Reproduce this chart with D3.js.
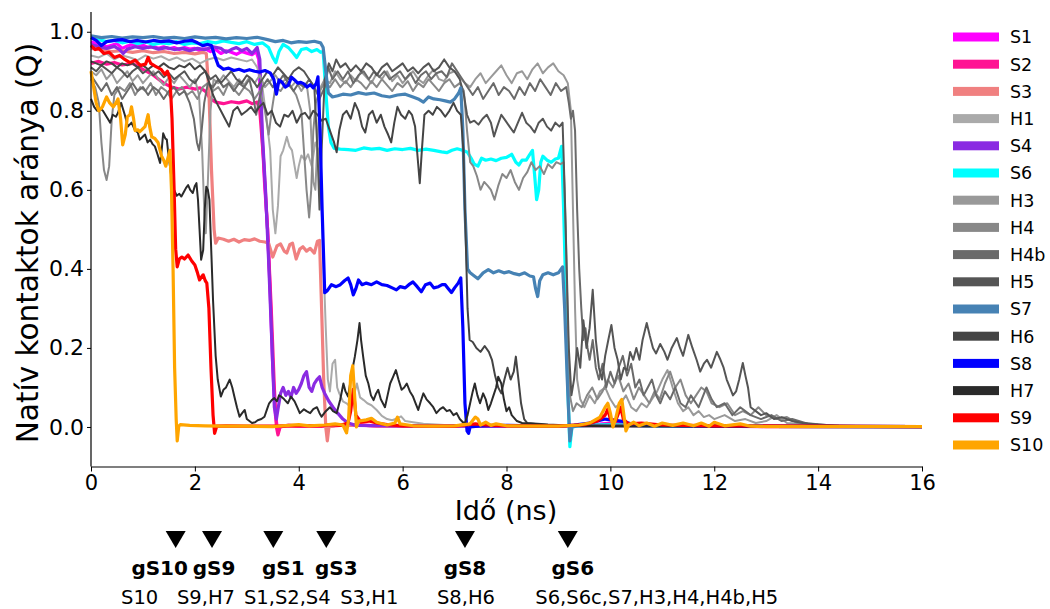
<!DOCTYPE html>
<html><head><meta charset="utf-8">
<script src="https://cdn.jsdelivr.net/npm/d3@7"></script>
<style>
html,body{margin:0;padding:0;background:#fff;}
svg{display:block;font-family:"DejaVu Sans",sans-serif;}
</style></head><body>
<svg id="chart" width="1050" height="609"></svg>
<script>
// Native contact fraction Q(t) per structural element, [time (ns), Q]
const S1 = [[0,0.975],[0.1,0.97],[0.2,0.968],[0.3,0.962],[0.4,0.966],[0.5,0.97],[0.6,0.958],[0.7,0.964],[0.8,0.968],[0.9,0.962],[1.0,0.966],[1.1,0.96],[1.2,0.963],[1.3,0.958],[1.4,0.962],[1.5,0.957],[1.6,0.96],[1.7,0.955],[1.8,0.96],[1.9,0.956],[2.0,0.958],[2.1,0.952],[2.2,0.957],[2.3,0.95],[2.4,0.955],[2.5,0.945],[2.6,0.952],[2.7,0.948],[2.8,0.943],[2.9,0.95],[3.0,0.946],[3.1,0.942],[3.18,0.95],[3.23,0.93],[3.28,0.78],[3.34,0.62],[3.4,0.5],[3.45,0.34],[3.5,0.15],[3.55,0.03],[3.6,-0.012],[3.65,0.002],[3.8,0.004],[4.0,0.002],[4.5,0.003],[5.0,0.006],[5.5,0.003],[6.0,0.002],[7.0,0.002],[8.0,0.003],[9.0,0.002],[9.6,0.005],[10.0,0.01],[10.5,0.004],[11,0.003],[12,0.002],[13,0.001],[16,0.001]];
const S2 = [[0,0.92],[0.15,0.925],[0.3,0.918],[0.45,0.922],[0.6,0.916],[0.8,0.92],[1.0,0.905],[1.2,0.89],[1.4,0.87],[1.55,0.86],[1.7,0.855],[1.85,0.86],[2.0,0.855],[2.1,0.858],[2.2,0.85],[2.3,0.83],[2.4,0.822],[2.55,0.818],[2.7,0.823],[2.85,0.82],[3.0,0.825],[3.1,0.818],[3.2,0.822],[3.25,0.8],[3.32,0.68],[3.4,0.5],[3.47,0.3],[3.53,0.1],[3.57,0.0],[3.6,-0.02],[3.64,0.0],[3.8,0.004],[4.2,0.003],[4.6,0.002],[5.0,0.006],[5.5,0.003],[6,0.002],[7,0.002],[8,0.002],[9,0.002],[9.8,0.006],[10.2,0.01],[10.6,0.004],[11.5,0.003],[12.5,0.002],[16,0.001]];
const S3 = [[0,0.958],[0.2,0.955],[0.4,0.95],[0.6,0.952],[0.8,0.948],[1.0,0.952],[1.2,0.947],[1.4,0.95],[1.6,0.945],[1.8,0.948],[2.0,0.944],[2.15,0.948],[2.22,0.945],[2.27,0.85],[2.32,0.65],[2.37,0.5],[2.4,0.465],[2.45,0.478],[2.55,0.475],[2.65,0.47],[2.75,0.475],[2.85,0.468],[2.95,0.474],[3.05,0.472],[3.15,0.476],[3.25,0.47],[3.35,0.468],[3.42,0.465],[3.5,0.43],[3.58,0.458],[3.65,0.463],[3.72,0.445],[3.77,0.44],[3.83,0.462],[3.88,0.465],[3.95,0.425],[4.02,0.45],[4.08,0.456],[4.15,0.445],[4.22,0.452],[4.3,0.44],[4.36,0.47],[4.4,0.472],[4.44,0.3],[4.48,0.12],[4.52,0.0],[4.55,-0.035],[4.58,0.0],[4.7,0.004],[5,0.005],[5.5,0.003],[6,0.002],[8,0.002],[10,0.003],[12,0.002],[16,0.001]];
const H1 = [[0,0.94],[0.15,0.935],[0.3,0.945],[0.45,0.93],[0.6,0.94],[0.75,0.935],[0.9,0.928],[1.05,0.94],[1.2,0.932],[1.35,0.938],[1.5,0.928],[1.65,0.935],[1.8,0.925],[1.95,0.932],[2.1,0.92],[2.25,0.93],[2.4,0.935],[2.55,0.928],[2.7,0.935],[2.85,0.93],[3.0,0.925],[3.1,0.93],[3.2,0.91],[3.3,0.86],[3.38,0.78],[3.45,0.7],[3.5,0.55],[3.55,0.49],[3.6,0.56],[3.65,0.685],[3.7,0.7],[3.77,0.734],[3.82,0.71],[3.87,0.7],[3.92,0.66],[3.96,0.63],[4.0,0.66],[4.05,0.687],[4.12,0.675],[4.18,0.69],[4.25,0.66],[4.32,0.72],[4.38,0.7],[4.43,0.6],[4.48,0.4],[4.52,0.25],[4.56,0.12],[4.6,0.09],[4.65,0.16],[4.7,0.17],[4.74,0.1],[4.78,0.085],[4.85,0.065],[4.92,0.06],[5.0,0.05],[5.08,0.09],[5.12,0.11],[5.18,0.075],[5.25,0.068],[5.32,0.06],[5.4,0.055],[5.5,0.043],[5.6,0.028],[5.7,0.02],[5.8,0.017],[5.9,0.022],[5.97,0.027],[6.05,0.015],[6.2,0.012],[6.4,0.008],[6.8,0.005],[7.5,0.004],[9,0.003],[16,0.001]];
const S4 = [[0,0.968],[0.15,0.962],[0.3,0.958],[0.45,0.963],[0.55,0.955],[0.62,0.945],[0.7,0.956],[0.85,0.962],[1.0,0.958],[1.15,0.962],[1.3,0.956],[1.45,0.96],[1.6,0.955],[1.75,0.958],[1.9,0.952],[2.05,0.958],[2.2,0.955],[2.35,0.962],[2.5,0.958],[2.6,0.948],[2.7,0.955],[2.8,0.96],[2.9,0.952],[3.0,0.958],[3.1,0.945],[3.2,0.96],[3.25,0.93],[3.3,0.74],[3.36,0.6],[3.42,0.42],[3.48,0.22],[3.53,0.05],[3.57,0.02],[3.6,0.045],[3.65,0.085],[3.7,0.1],[3.75,0.08],[3.8,0.09],[3.85,0.075],[3.9,0.1],[3.95,0.085],[4.0,0.095],[4.05,0.11],[4.1,0.13],[4.15,0.14],[4.2,0.1],[4.25,0.09],[4.3,0.11],[4.35,0.12],[4.4,0.127],[4.45,0.1],[4.5,0.085],[4.58,0.065],[4.66,0.05],[4.75,0.035],[4.85,0.02],[4.95,0.01],[5.1,0.004],[6,0.003],[8,0.002],[10,0.004],[12,0.002],[16,0.001]];
const S6 = [[0,0.985],[0.15,0.98],[0.3,0.975],[0.45,0.978],[0.6,0.972],[0.75,0.976],[0.9,0.97],[1.05,0.975],[1.2,0.968],[1.35,0.972],[1.5,0.97],[1.65,0.975],[1.8,0.968],[1.95,0.972],[2.1,0.97],[2.25,0.975],[2.4,0.972],[2.55,0.977],[2.7,0.973],[2.85,0.97],[3.0,0.975],[3.15,0.968],[3.3,0.972],[3.42,0.96],[3.5,0.935],[3.56,0.922],[3.62,0.95],[3.7,0.968],[3.8,0.96],[3.9,0.945],[3.96,0.935],[4.05,0.955],[4.15,0.958],[4.25,0.95],[4.35,0.955],[4.42,0.948],[4.47,0.95],[4.52,0.85],[4.57,0.76],[4.62,0.72],[4.68,0.705],[4.8,0.703],[4.95,0.702],[5.1,0.7],[5.25,0.706],[5.4,0.703],[5.55,0.705],[5.7,0.7],[5.85,0.704],[6.0,0.702],[6.15,0.705],[6.3,0.7],[6.45,0.703],[6.6,0.7],[6.75,0.696],[6.85,0.694],[6.95,0.7],[7.05,0.704],[7.15,0.7],[7.25,0.695],[7.32,0.68],[7.38,0.665],[7.45,0.66],[7.52,0.68],[7.6,0.675],[7.7,0.678],[7.8,0.674],[7.9,0.68],[8.0,0.682],[8.1,0.69],[8.18,0.67],[8.24,0.663],[8.3,0.675],[8.38,0.675],[8.45,0.69],[8.5,0.7],[8.54,0.64],[8.58,0.575],[8.62,0.6],[8.66,0.67],[8.7,0.685],[8.78,0.675],[8.86,0.67],[8.94,0.678],[9.0,0.68],[9.06,0.71],[9.1,0.55],[9.14,0.35],[9.18,0.1],[9.22,-0.05],[9.26,0.0],[9.4,0.003],[9.6,0.005],[10,0.006],[10.5,0.004],[11,0.003],[12,0.002],[16,0.001]];
const H3 = [[0,0.9],[0.1,0.89],[0.2,0.905],[0.3,0.88],[0.4,0.895],[0.5,0.87],[0.6,0.885],[0.7,0.9],[0.8,0.875],[0.9,0.89],[1.0,0.87],[1.1,0.885],[1.2,0.9],[1.3,0.88],[1.4,0.865],[1.5,0.885],[1.6,0.87],[1.7,0.89],[1.8,0.875],[1.9,0.86],[2.0,0.88],[2.08,0.84],[2.14,0.7],[2.18,0.55],[2.21,0.49],[2.25,0.62],[2.3,0.8],[2.36,0.88],[2.45,0.87],[2.55,0.89],[2.65,0.875],[2.75,0.86],[2.85,0.88],[2.95,0.865],[3.05,0.885],[3.15,0.87],[3.25,0.89],[3.35,0.86],[3.45,0.875],[3.55,0.89],[3.65,0.87],[3.75,0.88],[3.85,0.86],[3.95,0.875],[4.05,0.85],[4.15,0.87],[4.22,0.8],[4.28,0.62],[4.32,0.6],[4.37,0.75],[4.42,0.86],[4.5,0.88],[4.6,0.87],[4.7,0.9],[4.8,0.88],[4.9,0.87],[5.0,0.89],[5.1,0.875],[5.2,0.9],[5.3,0.885],[5.4,0.87],[5.5,0.895],[5.6,0.88],[5.7,0.9],[5.8,0.875],[5.9,0.89],[6.0,0.87],[6.1,0.885],[6.2,0.9],[6.3,0.88],[6.4,0.87],[6.5,0.89],[6.6,0.905],[6.7,0.88],[6.8,0.875],[6.9,0.895],[7.0,0.9],[7.1,0.885],[7.2,0.87],[7.3,0.86],[7.4,0.88],[7.5,0.895],[7.6,0.87],[7.7,0.885],[7.8,0.9],[7.9,0.915],[8.0,0.89],[8.1,0.87],[8.2,0.895],[8.3,0.9],[8.4,0.88],[8.5,0.905],[8.6,0.92],[8.7,0.895],[8.8,0.91],[8.9,0.92],[9.0,0.9],[9.1,0.89],[9.18,0.87],[9.24,0.8],[9.28,0.55],[9.32,0.3],[9.36,0.12],[9.42,0.07],[9.5,0.05],[9.6,0.08],[9.7,0.06],[9.8,0.09],[9.9,0.1],[10.0,0.07],[10.1,0.05],[10.2,0.06],[10.3,0.08],[10.4,0.05],[10.5,0.04],[10.6,0.06],[10.7,0.05],[10.8,0.07],[10.9,0.09],[11.0,0.12],[11.1,0.144],[11.2,0.1],[11.3,0.06],[11.4,0.04],[11.5,0.05],[11.6,0.03],[11.7,0.04],[11.8,0.025],[11.9,0.03],[12.0,0.02],[12.2,0.03],[12.4,0.015],[12.6,0.02],[12.8,0.01],[13.0,0.015],[13.2,0.03],[13.4,0.01],[13.6,0.008],[14.0,0.004],[14.5,0.002],[16,0.001]];
const H4 = [[0,0.88],[0.08,0.86],[0.15,0.82],[0.2,0.72],[0.25,0.65],[0.3,0.625],[0.35,0.66],[0.4,0.78],[0.45,0.84],[0.55,0.86],[0.65,0.85],[0.75,0.87],[0.85,0.84],[0.95,0.86],[1.05,0.85],[1.15,0.87],[1.25,0.84],[1.35,0.86],[1.45,0.85],[1.55,0.83],[1.65,0.85],[1.75,0.86],[1.85,0.84],[1.95,0.85],[2.05,0.83],[2.15,0.86],[2.25,0.87],[2.35,0.85],[2.45,0.86],[2.55,0.84],[2.65,0.87],[2.75,0.855],[2.85,0.84],[2.95,0.86],[3.05,0.85],[3.15,0.83],[3.25,0.85],[3.35,0.8],[3.42,0.74],[3.48,0.8],[3.55,0.86],[3.65,0.85],[3.75,0.87],[3.85,0.86],[3.95,0.84],[4.05,0.8],[4.1,0.7],[4.15,0.6],[4.2,0.53],[4.24,0.6],[4.28,0.75],[4.33,0.82],[4.4,0.85],[4.5,0.87],[4.6,0.86],[4.7,0.88],[4.8,0.86],[4.9,0.875],[5.0,0.86],[5.1,0.88],[5.2,0.87],[5.3,0.855],[5.4,0.875],[5.5,0.86],[5.6,0.88],[5.7,0.865],[5.8,0.85],[5.9,0.87],[6.0,0.86],[6.1,0.875],[6.2,0.85],[6.3,0.87],[6.4,0.86],[6.5,0.88],[6.6,0.865],[6.7,0.85],[6.8,0.87],[6.9,0.88],[7.0,0.86],[7.1,0.87],[7.18,0.85],[7.24,0.75],[7.3,0.67],[7.36,0.66],[7.43,0.635],[7.5,0.6],[7.57,0.62],[7.64,0.61],[7.7,0.6],[7.77,0.575],[7.84,0.61],[7.92,0.64],[8.0,0.63],[8.08,0.65],[8.16,0.62],[8.24,0.6],[8.32,0.63],[8.4,0.645],[8.48,0.67],[8.56,0.65],[8.64,0.66],[8.72,0.64],[8.8,0.665],[8.88,0.655],[8.96,0.67],[9.04,0.665],[9.1,0.67],[9.14,0.5],[9.18,0.25],[9.22,0.08],[9.28,0.04],[9.35,0.06],[9.45,0.05],[9.55,0.08],[9.65,0.1],[9.75,0.07],[9.85,0.09],[9.95,0.12],[10.05,0.1],[10.15,0.13],[10.25,0.09],[10.35,0.11],[10.45,0.07],[10.55,0.1],[10.65,0.08],[10.75,0.06],[10.85,0.09],[10.95,0.07],[11.05,0.11],[11.15,0.14],[11.25,0.1],[11.35,0.12],[11.45,0.08],[11.55,0.06],[11.65,0.08],[11.75,0.1],[11.85,0.09],[11.95,0.06],[12.1,0.05],[12.25,0.06],[12.4,0.03],[12.55,0.04],[12.7,0.03],[12.85,0.05],[13.0,0.03],[13.2,0.02],[13.4,0.025],[13.6,0.01],[13.9,0.008],[14.3,0.003],[15,0.001],[16,0.001]];
const H4b = [[0,0.89],[0.1,0.87],[0.2,0.85],[0.3,0.87],[0.4,0.84],[0.5,0.86],[0.6,0.83],[0.7,0.85],[0.8,0.87],[0.9,0.85],[1.0,0.86],[1.1,0.84],[1.2,0.86],[1.3,0.85],[1.4,0.83],[1.5,0.85],[1.6,0.86],[1.7,0.84],[1.8,0.85],[1.9,0.82],[1.98,0.78],[2.04,0.72],[2.08,0.7],[2.13,0.75],[2.18,0.82],[2.25,0.87],[2.35,0.86],[2.45,0.88],[2.55,0.86],[2.65,0.87],[2.75,0.85],[2.85,0.87],[2.95,0.86],[3.05,0.88],[3.12,0.84],[3.18,0.79],[3.24,0.83],[3.3,0.86],[3.4,0.88],[3.5,0.86],[3.6,0.87],[3.7,0.89],[3.8,0.87],[3.9,0.85],[4.0,0.87],[4.1,0.86],[4.2,0.88],[4.3,0.86],[4.4,0.83],[4.5,0.86],[4.57,0.91],[4.65,0.88],[4.75,0.9],[4.85,0.88],[4.95,0.9],[5.05,0.87],[5.15,0.89],[5.25,0.9],[5.35,0.88],[5.45,0.9],[5.55,0.885],[5.65,0.9],[5.75,0.88],[5.85,0.89],[5.95,0.9],[6.05,0.88],[6.15,0.895],[6.25,0.87],[6.35,0.89],[6.45,0.9],[6.55,0.88],[6.65,0.895],[6.75,0.9],[6.85,0.885],[6.95,0.92],[7.05,0.9],[7.15,0.88],[7.25,0.86],[7.35,0.84],[7.45,0.86],[7.55,0.83],[7.65,0.85],[7.75,0.87],[7.85,0.84],[7.95,0.86],[8.05,0.85],[8.15,0.83],[8.25,0.86],[8.35,0.84],[8.45,0.87],[8.55,0.85],[8.65,0.88],[8.75,0.86],[8.85,0.84],[8.95,0.87],[9.05,0.85],[9.15,0.86],[9.2,0.82],[9.24,0.78],[9.28,0.8],[9.32,0.75],[9.36,0.55],[9.4,0.4],[9.44,0.3],[9.48,0.22],[9.52,0.25],[9.56,0.2],[9.6,0.17],[9.66,0.22],[9.72,0.15],[9.78,0.12],[9.85,0.16],[9.92,0.1],[10.0,0.14],[10.08,0.11],[10.16,0.15],[10.24,0.18],[10.32,0.13],[10.4,0.16],[10.48,0.1],[10.56,0.12],[10.64,0.08],[10.72,0.1],[10.8,0.12],[10.88,0.08],[10.96,0.06],[11.05,0.09],[11.15,0.07],[11.25,0.1],[11.35,0.06],[11.45,0.05],[11.55,0.08],[11.7,0.05],[11.85,0.1],[11.95,0.07],[12.05,0.05],[12.2,0.06],[12.35,0.03],[12.5,0.05],[12.7,0.03],[12.9,0.02],[13.1,0.03],[13.3,0.015],[13.5,0.02],[13.8,0.008],[14.2,0.004],[15,0.002],[16,0.001]];
const H5 = [[0,0.91],[0.1,0.9],[0.2,0.915],[0.3,0.905],[0.4,0.895],[0.5,0.91],[0.6,0.9],[0.7,0.885],[0.8,0.9],[0.9,0.91],[1.0,0.895],[1.1,0.905],[1.2,0.89],[1.3,0.9],[1.4,0.885],[1.5,0.895],[1.6,0.88],[1.7,0.89],[1.8,0.9],[1.9,0.88],[2.0,0.87],[2.1,0.89],[2.2,0.9],[2.3,0.88],[2.4,0.89],[2.5,0.87],[2.6,0.885],[2.7,0.9],[2.8,0.88],[2.9,0.87],[3.0,0.89],[3.1,0.88],[3.2,0.86],[3.3,0.88],[3.4,0.9],[3.5,0.89],[3.6,0.91],[3.7,0.895],[3.8,0.88],[3.9,0.9],[4.0,0.91],[4.1,0.9],[4.2,0.88],[4.3,0.86],[4.36,0.7],[4.4,0.55],[4.44,0.7],[4.5,0.88],[4.58,0.92],[4.65,0.9],[4.72,0.93],[4.8,0.91],[4.9,0.92],[5.0,0.9],[5.1,0.915],[5.2,0.9],[5.3,0.92],[5.4,0.91],[5.5,0.89],[5.6,0.91],[5.7,0.92],[5.8,0.9],[5.9,0.91],[6.0,0.92],[6.1,0.9],[6.2,0.91],[6.3,0.895],[6.4,0.91],[6.5,0.92],[6.6,0.9],[6.7,0.91],[6.8,0.93],[6.9,0.91],[7.0,0.9],[7.1,0.88],[7.18,0.84],[7.24,0.79],[7.3,0.77],[7.38,0.775],[7.46,0.765],[7.54,0.78],[7.62,0.79],[7.7,0.77],[7.76,0.735],[7.82,0.76],[7.9,0.79],[7.98,0.775],[8.06,0.76],[8.14,0.745],[8.22,0.77],[8.3,0.795],[8.38,0.77],[8.46,0.76],[8.54,0.745],[8.62,0.77],[8.7,0.78],[8.78,0.76],[8.86,0.75],[8.94,0.77],[9.02,0.76],[9.08,0.77],[9.12,0.6],[9.16,0.4],[9.2,0.2],[9.25,0.08],[9.3,0.12],[9.36,0.2],[9.42,0.15],[9.48,0.27],[9.54,0.2],[9.6,0.25],[9.66,0.347],[9.72,0.22],[9.78,0.15],[9.84,0.12],[9.9,0.18],[9.96,0.22],[10.02,0.258],[10.08,0.2],[10.14,0.17],[10.2,0.12],[10.26,0.15],[10.32,0.144],[10.38,0.19],[10.44,0.17],[10.5,0.2],[10.56,0.17],[10.62,0.22],[10.7,0.263],[10.76,0.23],[10.82,0.2],[10.88,0.186],[10.96,0.21],[11.04,0.19],[11.1,0.17],[11.18,0.2],[11.28,0.225],[11.34,0.2],[11.4,0.18],[11.5,0.233],[11.58,0.2],[11.66,0.17],[11.73,0.14],[11.8,0.16],[11.86,0.17],[11.94,0.15],[12.05,0.19],[12.12,0.17],[12.18,0.15],[12.24,0.12],[12.3,0.1],[12.36,0.08],[12.42,0.09],[12.48,0.12],[12.55,0.162],[12.6,0.13],[12.65,0.1],[12.7,0.05],[12.8,0.04],[12.9,0.03],[13.0,0.035],[13.15,0.02],[13.3,0.025],[13.5,0.015],[13.7,0.01],[14.0,0.006],[14.4,0.003],[15,0.001],[16,0.001]];
const S7 = [[0,0.99],[0.2,0.985],[0.4,0.988],[0.6,0.984],[0.8,0.987],[1.0,0.985],[1.2,0.988],[1.4,0.984],[1.6,0.986],[1.8,0.983],[2.0,0.987],[2.2,0.984],[2.4,0.986],[2.6,0.982],[2.8,0.985],[3.0,0.983],[3.2,0.986],[3.4,0.98],[3.55,0.975],[3.7,0.978],[3.85,0.972],[4.0,0.975],[4.15,0.973],[4.3,0.976],[4.42,0.972],[4.47,0.96],[4.52,0.9],[4.57,0.845],[4.65,0.835],[4.75,0.838],[4.85,0.842],[5.0,0.84],[5.15,0.846],[5.3,0.842],[5.45,0.845],[5.6,0.838],[5.75,0.835],[5.9,0.84],[6.05,0.842],[6.2,0.835],[6.3,0.83],[6.4,0.822],[6.5,0.835],[6.6,0.83],[6.72,0.828],[6.82,0.825],[6.92,0.822],[7.0,0.83],[7.08,0.845],[7.12,0.858],[7.16,0.75],[7.2,0.55],[7.25,0.4],[7.3,0.39],[7.38,0.382],[7.45,0.375],[7.55,0.39],[7.65,0.398],[7.75,0.39],[7.85,0.395],[7.95,0.39],[8.05,0.393],[8.15,0.388],[8.25,0.385],[8.35,0.39],[8.45,0.382],[8.52,0.38],[8.56,0.35],[8.6,0.33],[8.64,0.37],[8.7,0.385],[8.8,0.39],[8.9,0.385],[9.0,0.39],[9.08,0.405],[9.12,0.3],[9.17,0.12],[9.22,-0.035],[9.26,0.0],[9.4,0.003],[10,0.004],[11,0.002],[16,0.001]];
const H6 = [[0,0.925],[0.1,0.92],[0.2,0.915],[0.3,0.925],[0.4,0.92],[0.5,0.91],[0.6,0.92],[0.7,0.915],[0.8,0.92],[0.9,0.91],[1.0,0.915],[1.1,0.905],[1.2,0.915],[1.3,0.91],[1.4,0.92],[1.5,0.91],[1.6,0.905],[1.7,0.915],[1.8,0.91],[1.9,0.92],[2.0,0.905],[2.1,0.915],[2.2,0.9],[2.28,0.87],[2.35,0.84],[2.42,0.82],[2.5,0.8],[2.58,0.78],[2.66,0.76],[2.74,0.8],[2.82,0.81],[2.9,0.79],[3.0,0.8],[3.08,0.81],[3.16,0.795],[3.24,0.81],[3.32,0.82],[3.4,0.79],[3.48,0.8],[3.56,0.77],[3.64,0.76],[3.72,0.79],[3.8,0.785],[3.88,0.8],[3.96,0.77],[4.04,0.79],[4.12,0.795],[4.2,0.78],[4.28,0.8],[4.36,0.79],[4.44,0.775],[4.52,0.78],[4.6,0.75],[4.68,0.72],[4.73,0.695],[4.78,0.75],[4.85,0.79],[4.92,0.8],[5.0,0.78],[5.08,0.82],[5.15,0.8],[5.22,0.76],[5.28,0.745],[5.35,0.79],[5.42,0.8],[5.5,0.77],[5.58,0.79],[5.65,0.76],[5.72,0.74],[5.78,0.72],[5.84,0.77],[5.9,0.81],[5.97,0.79],[6.05,0.78],[6.12,0.8],[6.18,0.79],[6.24,0.76],[6.29,0.68],[6.33,0.617],[6.37,0.7],[6.42,0.79],[6.5,0.8],[6.58,0.79],[6.66,0.81],[6.74,0.8],[6.82,0.785],[6.9,0.8],[6.98,0.82],[7.05,0.8],[7.12,0.79],[7.17,0.7],[7.21,0.5],[7.25,0.3],[7.29,0.22],[7.35,0.215],[7.42,0.2],[7.5,0.19],[7.58,0.205],[7.66,0.19],[7.72,0.17],[7.78,0.13],[7.84,0.1],[7.9,0.085],[7.96,0.12],[8.02,0.15],[8.08,0.12],[8.14,0.14],[8.18,0.178],[8.23,0.12],[8.28,0.06],[8.34,0.02],[8.4,0.01],[8.6,0.008],[8.8,0.006],[9.0,0.005],[9.5,0.004],[10,0.003],[12,0.002],[16,0.001]];
const S8 = [[0,0.985],[0.1,0.978],[0.2,0.965],[0.3,0.975],[0.45,0.978],[0.6,0.98],[0.75,0.975],[0.9,0.978],[1.05,0.974],[1.2,0.978],[1.35,0.975],[1.5,0.977],[1.65,0.972],[1.8,0.976],[1.95,0.978],[2.05,0.972],[2.15,0.965],[2.25,0.968],[2.32,0.965],[2.38,0.94],[2.45,0.915],[2.55,0.905],[2.65,0.908],[2.75,0.902],[2.85,0.905],[2.95,0.9],[3.05,0.904],[3.15,0.9],[3.25,0.898],[3.35,0.902],[3.45,0.896],[3.52,0.88],[3.57,0.842],[3.62,0.878],[3.68,0.872],[3.74,0.86],[3.8,0.865],[3.86,0.885],[3.92,0.878],[3.98,0.87],[4.04,0.872],[4.1,0.868],[4.16,0.86],[4.22,0.866],[4.28,0.858],[4.34,0.87],[4.37,0.886],[4.41,0.75],[4.45,0.55],[4.5,0.34],[4.55,0.345],[4.63,0.36],[4.72,0.355],[4.8,0.36],[4.88,0.37],[4.95,0.377],[5.0,0.36],[5.05,0.334],[5.1,0.35],[5.15,0.372],[5.22,0.36],[5.3,0.364],[5.4,0.36],[5.5,0.367],[5.6,0.36],[5.7,0.358],[5.8,0.352],[5.88,0.347],[5.95,0.355],[6.05,0.352],[6.12,0.36],[6.2,0.367],[6.28,0.355],[6.36,0.342],[6.44,0.36],[6.53,0.364],[6.6,0.352],[6.69,0.355],[6.76,0.36],[6.82,0.36],[6.88,0.35],[6.94,0.34],[7.0,0.352],[7.07,0.364],[7.12,0.377],[7.16,0.25],[7.2,0.06],[7.24,-0.01],[7.27,-0.016],[7.3,0.0],[7.5,0.003],[8,0.004],[8.5,0.003],[9,0.002],[9.3,0.005],[9.6,0.01],[9.9,0.02],[10.2,0.015],[10.5,0.005],[11,0.004],[12,0.002],[16,0.001]];
const H7 = [[0,0.83],[0.06,0.81],[0.12,0.8],[0.18,0.805],[0.23,0.8],[0.3,0.785],[0.37,0.77],[0.42,0.79],[0.48,0.785],[0.52,0.795],[0.58,0.82],[0.65,0.79],[0.71,0.76],[0.78,0.77],[0.85,0.75],[0.9,0.745],[0.94,0.727],[1.0,0.735],[1.04,0.74],[1.09,0.72],[1.14,0.727],[1.19,0.715],[1.23,0.71],[1.28,0.69],[1.33,0.668],[1.36,0.7],[1.39,0.743],[1.43,0.73],[1.46,0.727],[1.49,0.69],[1.52,0.66],[1.56,0.62],[1.6,0.6],[1.65,0.585],[1.7,0.59],[1.74,0.583],[1.79,0.595],[1.83,0.605],[1.87,0.612],[1.91,0.6],[1.96,0.592],[2.0,0.61],[2.03,0.617],[2.06,0.575],[2.09,0.5],[2.12,0.423],[2.16,0.448],[2.19,0.55],[2.22,0.608],[2.25,0.6],[2.28,0.575],[2.32,0.43],[2.35,0.32],[2.4,0.18],[2.44,0.12],[2.5,0.077],[2.55,0.094],[2.6,0.1],[2.67,0.12],[2.72,0.1],[2.76,0.077],[2.81,0.05],[2.86,0.026],[2.91,0.035],[2.96,0.043],[3.0,0.02],[3.05,0.015],[3.1,0.01],[3.16,0.012],[3.21,0.017],[3.28,0.02],[3.34,0.026],[3.39,0.045],[3.43,0.06],[3.48,0.068],[3.53,0.073],[3.58,0.065],[3.62,0.08],[3.66,0.077],[3.72,0.07],[3.79,0.06],[3.85,0.077],[3.92,0.065],[3.97,0.05],[4.02,0.035],[4.1,0.045],[4.15,0.04],[4.22,0.035],[4.28,0.045],[4.35,0.05],[4.4,0.035],[4.44,0.026],[4.52,0.04],[4.6,0.05],[4.66,0.04],[4.73,0.035],[4.8,0.07],[4.86,0.11],[4.9,0.09],[4.95,0.077],[5.0,0.12],[5.04,0.15],[5.08,0.178],[5.13,0.22],[5.17,0.263],[5.2,0.22],[5.24,0.178],[5.29,0.13],[5.34,0.11],[5.39,0.08],[5.44,0.068],[5.49,0.085],[5.53,0.094],[5.58,0.07],[5.62,0.06],[5.66,0.05],[5.71,0.08],[5.76,0.11],[5.81,0.125],[5.87,0.144],[5.92,0.12],[5.98,0.094],[6.03,0.1],[6.08,0.11],[6.14,0.09],[6.2,0.077],[6.25,0.06],[6.3,0.043],[6.35,0.065],[6.4,0.085],[6.46,0.07],[6.53,0.06],[6.59,0.05],[6.65,0.035],[6.72,0.045],[6.78,0.05],[6.85,0.04],[6.91,0.043],[6.98,0.03],[7.04,0.035],[7.1,0.02],[7.16,0.012],[7.2,0.01],[7.25,0.03],[7.3,0.06],[7.35,0.09],[7.39,0.11],[7.44,0.08],[7.49,0.06],[7.55,0.085],[7.6,0.07],[7.65,0.043],[7.7,0.06],[7.75,0.08],[7.8,0.1],[7.84,0.127],[7.9,0.11],[7.95,0.07],[8.0,0.04],[8.05,0.05],[8.1,0.03],[8.2,0.015],[8.3,0.01],[8.5,0.008],[8.8,0.005],[9.2,0.003],[10,0.002],[16,0.001]];
const S9 = [[0,0.965],[0.08,0.955],[0.15,0.958],[0.25,0.945],[0.35,0.948],[0.45,0.935],[0.55,0.94],[0.65,0.93],[0.75,0.922],[0.85,0.928],[0.95,0.915],[1.05,0.918],[1.1,0.935],[1.15,0.92],[1.25,0.912],[1.35,0.905],[1.42,0.892],[1.47,0.9],[1.52,0.88],[1.56,0.78],[1.6,0.6],[1.63,0.45],[1.66,0.405],[1.7,0.425],[1.75,0.43],[1.8,0.425],[1.87,0.435],[1.94,0.42],[2.0,0.41],[2.05,0.39],[2.09,0.372],[2.13,0.38],[2.16,0.385],[2.2,0.37],[2.23,0.364],[2.27,0.3],[2.31,0.15],[2.35,0.03],[2.38,-0.016],[2.42,0.002],[2.6,0.003],[3.0,0.002],[3.5,0.002],[4.0,0.003],[4.45,0.003],[4.6,0.006],[4.8,0.004],[4.95,0.01],[5.0,0.04],[5.05,0.095],[5.1,0.03],[5.2,0.012],[5.35,0.015],[5.5,0.01],[5.7,0.006],[6.0,0.003],[7,0.002],[7.4,0.008],[7.6,0.005],[8,0.003],[9,0.002],[9.5,0.006],[9.75,0.015],[9.9,0.03],[9.95,0.045],[10.0,0.02],[10.1,0.015],[10.2,0.05],[10.25,0.02],[10.35,0.008],[10.6,0.01],[11,0.005],[11.5,0.004],[12,0.003],[16,0.001]];
const S10 = [[0,0.9],[0.05,0.86],[0.1,0.82],[0.15,0.8],[0.22,0.81],[0.3,0.835],[0.36,0.82],[0.43,0.81],[0.48,0.82],[0.52,0.83],[0.57,0.78],[0.61,0.714],[0.66,0.74],[0.7,0.785],[0.75,0.79],[0.78,0.81],[0.82,0.78],[0.85,0.75],[0.9,0.752],[0.94,0.747],[1.0,0.755],[1.04,0.76],[1.08,0.78],[1.1,0.79],[1.13,0.76],[1.17,0.734],[1.23,0.73],[1.29,0.72],[1.33,0.7],[1.36,0.685],[1.4,0.675],[1.44,0.66],[1.48,0.68],[1.52,0.7],[1.55,0.6],[1.58,0.4],[1.61,0.15],[1.64,0.02],[1.66,-0.035],[1.69,0.002],[1.72,0.006],[1.9,0.004],[2.2,0.003],[2.5,0.002],[3.0,0.002],[3.5,0.001],[3.8,0.004],[4.0,0.006],[4.2,0.003],[4.5,0.005],[4.7,0.008],[4.85,0.005],[4.92,-0.015],[4.96,0.02],[5.0,0.13],[5.04,0.155],[5.08,0.07],[5.11,0.0],[5.15,0.015],[5.3,0.018],[5.4,0.022],[5.5,0.012],[5.7,0.005],[5.85,0.01],[5.9,0.025],[5.95,0.008],[6.2,0.003],[6.6,0.002],[7.0,0.003],[7.3,0.008],[7.4,0.025],[7.45,0.02],[7.5,0.005],[7.6,0.012],[7.7,0.004],[7.8,0.008],[8.0,0.003],[8.5,0.002],[9.0,0.002],[9.4,0.005],[9.6,0.01],[9.8,0.025],[9.9,0.05],[9.95,0.06],[10.0,0.035],[10.05,0.0],[10.1,0.02],[10.17,0.06],[10.22,0.07],[10.27,0.02],[10.3,-0.01],[10.35,0.005],[10.45,0.012],[10.55,0.003],[10.7,0.01],[10.85,0.002],[11.0,0.01],[11.2,0.004],[11.4,0.01],[11.6,0.003],[11.75,0.01],[11.9,0.002],[12.0,0.012],[12.2,0.003],[12.5,0.008],[12.7,0.002],[13,0.001],[16,0.001]];

// Series in plotting order (later ones draw on top)
const seriesNames = ["S1","S2","S3","H1","S4","S6","H3","H4","H4b","H5","S7","H6","S8","H7","S9","S10"];
const seriesValues = {S1,S2,S3,H1,S4,S6,H3,H4,H4b,H5,S7,H6,S8,H7,S9,S10};

const xTicks = [0,2,4,6,8,10,12,14,16];
const yTicks = [0.0,0.2,0.4,0.6,0.8,1.0];

// Folding events: time (ns), group label, elements involved
const foldTimes = [1.63, 2.33, 3.51, 4.53, 7.2, 9.18];
const foldGroups = ["gS10","gS9","gS1","gS3","gS8","gS6"];
const foldMembers = ["S10","S9,H7","S1,S2,S4","S3,H1","S8,H6","S6,S6c,S7,H3,H4,H4b,H5"];

// ---- styling ----
const colors = {S1:"#ff00ff",S2:"#ff1493",S3:"#f08080",H1:"#aaaaaa",S4:"#8a2be2",S6:"#00ffff",
  H3:"#999999",H4:"#888888",H4b:"#6a6a6a",H5:"#555555",S7:"#4682b4",H6:"#444444",S8:"#0000ff",
  H7:"#2a2a2a",S9:"#ff0000",S10:"#ffa500"};
const widthOf = n => n.startsWith("H") ? 2 : 3.2;
// horizontal offsets of the annotation texts from their marker (px)
const groupDx = [-16, 2, 10, 10, 0, 5];
const memberDx = [-36, -6, 14, 43, 1, 89];

const svg = d3.select("#chart");
const m = {left:91, right:922, top:12, bottom:466.5};
const x = d3.scaleLinear().domain([0,16]).range([m.left, m.right]);
const y = d3.scaleLinear().domain([-0.1,1.05]).range([m.bottom, m.top]);

const line = d3.line().x(d => x(d[0])).y(d => y(d[1]));
const plot = svg.append("g");
seriesNames.forEach(n => {
  plot.append("path").datum(seriesValues[n])
    .attr("d", line).attr("fill","none")
    .attr("stroke", colors[n]).attr("stroke-width", widthOf(n))
    .attr("stroke-linejoin","round");
});

// axes
const fontTick = 21;
const xAxis = svg.append("g").attr("transform",`translate(0,${m.bottom})`)
  .call(d3.axisBottom(x).tickValues(xTicks).tickFormat(d3.format("d")).tickSize(5).tickPadding(4).tickSizeOuter(0));
const yAxis = svg.append("g").attr("transform",`translate(${m.left},0)`)
  .call(d3.axisLeft(y).tickValues(yTicks).tickFormat(d3.format(".1f")).tickSize(4).tickPadding(3).tickSizeOuter(0));
[xAxis,yAxis].forEach(a => {
  a.selectAll("text").attr("font-size",fontTick).attr("font-family","DejaVu Sans").attr("fill","#000");
  a.selectAll("line").attr("stroke","#000").attr("stroke-width",1);
  a.select(".domain").attr("stroke","#000").attr("stroke-width",1.2);
});
yAxis.selectAll("text").attr("font-size",22);
yAxis.select(".domain").attr("d",`M0,${m.top}V${m.bottom}`);

svg.append("text").attr("x",506).attr("y",520).attr("text-anchor","middle")
  .attr("font-size",27).text("Idő (ns)");
svg.append("text").attr("transform","translate(38,243) rotate(-90)").attr("text-anchor","middle")
  .attr("font-size",29.5).text("Natív kontaktok aránya (Q)");

// legend
const lg = svg.append("g");
seriesNames.forEach((n,i) => {
  const cy = 37 + i*27.2;
  lg.append("rect").attr("x",953).attr("y",cy-4.5).attr("width",46).attr("height",9).attr("fill",colors[n]);
  lg.append("text").attr("x",1010).attr("y",cy).attr("dy","0.36em").attr("font-size",17.5).text(n);
});

// folding event annotations
const ann = svg.append("g");
foldTimes.forEach((t,i) => {
  const cx = x(t);
  ann.append("path").attr("d",`M${cx-10},531L${cx+10},531L${cx},548Z`).attr("fill","#000");
  ann.append("text").attr("x",cx+groupDx[i]).attr("y",575).attr("text-anchor","middle")
    .attr("font-size",20).attr("font-weight","bold").text(foldGroups[i]);
  ann.append("text").attr("x",cx+memberDx[i]).attr("y",604).attr("text-anchor","middle")
    .attr("font-size",19.5).text(foldMembers[i]);
});
</script>
</body></html>
